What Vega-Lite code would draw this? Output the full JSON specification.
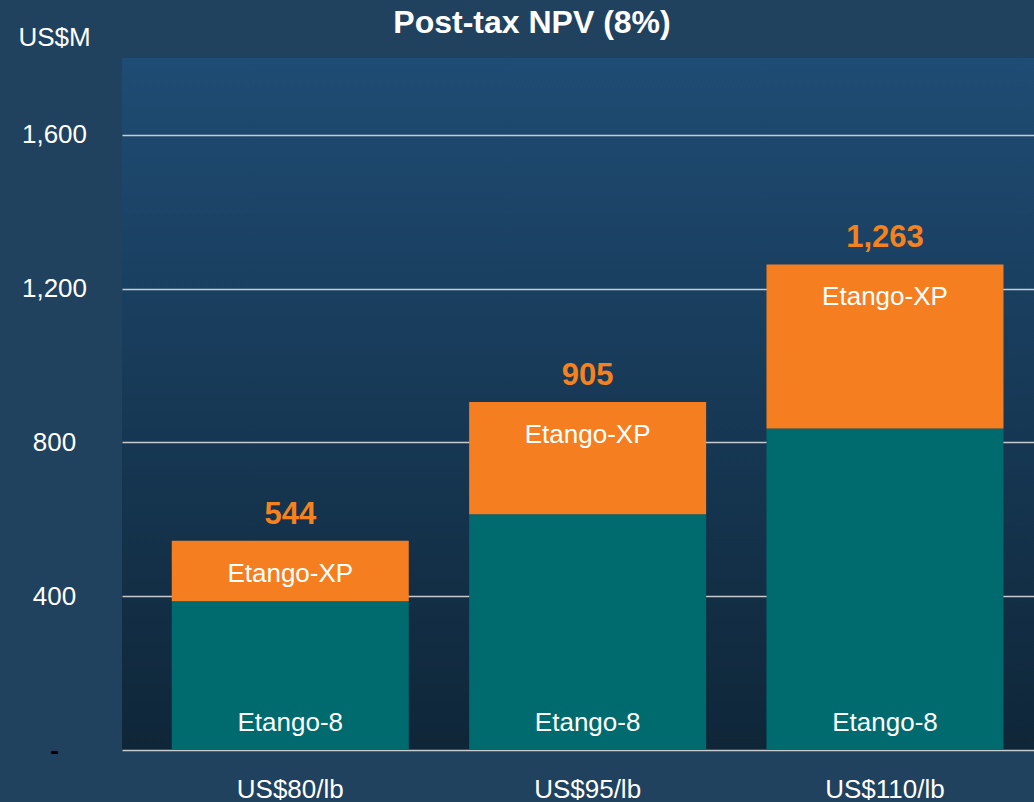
{
  "$schema": "https://vega.github.io/schema/vega-lite/v6.json",
  "width": 912,
  "height": 692,
  "autosize": {"type": "none"},
  "padding": {"left": 122, "top": 58, "right": 0, "bottom": 52},
  "background": "#20425f",
  "config": {
    "font": "Liberation Sans",
    "view": {"stroke": null, "fill": {"gradient": "linear", "x1": 0, "y1": 0, "x2": 0, "y2": 1, "stops": [{"offset": 0, "color": "#1f4c74"}, {"offset": 1, "color": "#0f2638"}]}}
  },
  "title": {
    "text": "Post-tax NPV (8%)",
    "color": "white",
    "fontSize": 32,
    "fontWeight": "bold",
    "anchor": "middle",
    "dx": -46,
    "offset": -31,
    "baseline": "middle"
  },
  "data": {
    "values": [
      {"price": "US$80/lb", "project": "Etango-8", "value": 387, "total": 544},
      {"price": "US$80/lb", "project": "Etango-XP", "value": 157, "total": 544},
      {"price": "US$95/lb", "project": "Etango-8", "value": 613, "total": 905},
      {"price": "US$95/lb", "project": "Etango-XP", "value": 292, "total": 905},
      {"price": "US$110/lb", "project": "Etango-8", "value": 836, "total": 1263},
      {"price": "US$110/lb", "project": "Etango-XP", "value": 427, "total": 1263}
    ]
  },
  "encoding": {
    "x": {
      "field": "price",
      "type": "nominal",
      "sort": ["US$80/lb", "US$95/lb", "US$110/lb"],
      "scale": {"paddingInner": 0.203, "paddingOuter": 0.135, "align": 0.62},
      "axis": {
        "title": null,
        "labelAngle": 0,
        "labelFontSize": 26,
        "labelColor": "white",
        "labelPadding": 26,
        "labelBaseline": "top",
        "ticks": false,
        "domain": false,
        "grid": false
      }
    }
  },
  "layer": [
    {
      "mark": {"type": "bar"},
      "encoding": {
        "y": {
          "field": "value",
          "type": "quantitative",
          "stack": "zero",
          "scale": {"domain": [0, 1800], "nice": false},
          "axis": {
            "title": "US$M",
            "titleAngle": 0,
            "titleX": -104,
            "titleY": -21,
            "titleAlign": "left",
            "titleBaseline": "middle",
            "titleFontSize": 26,
            "titleFontWeight": "normal",
            "titleColor": "white",
            "values": [0, 400, 800, 1200, 1600],
            "labelExpr": "datum.value == 0 ? '-' : format(datum.value, ',')",
            "labelFontSize": 26,
            "labelColor": {"condition": {"test": "datum.value == 0", "value": "black"}, "value": "white"},
            "labelFontWeight": {"condition": {"test": "datum.value == 0", "value": "bold"}, "value": "normal"},
            "labelAlign": "center",
            "labelBaseline": "middle",
            "labelPadding": 68,
            "ticks": false,
            "domain": false,
            "grid": true,
            "gridColor": "#c8ccd0",
            "gridWidth": 1.5
          }
        },
        "color": {
          "field": "project",
          "type": "nominal",
          "scale": {"domain": ["Etango-8", "Etango-XP"], "range": ["#006b6e", "#f57f20"]},
          "legend": null
        },
        "order": {"field": "project", "sort": "ascending"}
      }
    },
    {
      "transform": [{"filter": "datum.project == 'Etango-XP'"}],
      "mark": {"type": "text", "color": "white", "fontSize": 26, "baseline": "middle", "dy": 33},
      "encoding": {
        "y": {"field": "total", "type": "quantitative"},
        "text": {"field": "project"}
      }
    },
    {
      "transform": [{"filter": "datum.project == 'Etango-8'"}],
      "mark": {"type": "text", "color": "white", "fontSize": 26, "baseline": "middle", "dy": -27},
      "encoding": {
        "y": {"datum": 0},
        "text": {"field": "project"}
      }
    },
    {
      "transform": [{"filter": "datum.project == 'Etango-XP'"}],
      "mark": {"type": "text", "color": "#f5821f", "fontSize": 31, "fontWeight": "bold", "baseline": "middle", "dy": -26},
      "encoding": {
        "y": {"field": "total", "type": "quantitative"},
        "text": {"field": "total", "type": "quantitative", "format": ","}
      }
    }
  ]
}
